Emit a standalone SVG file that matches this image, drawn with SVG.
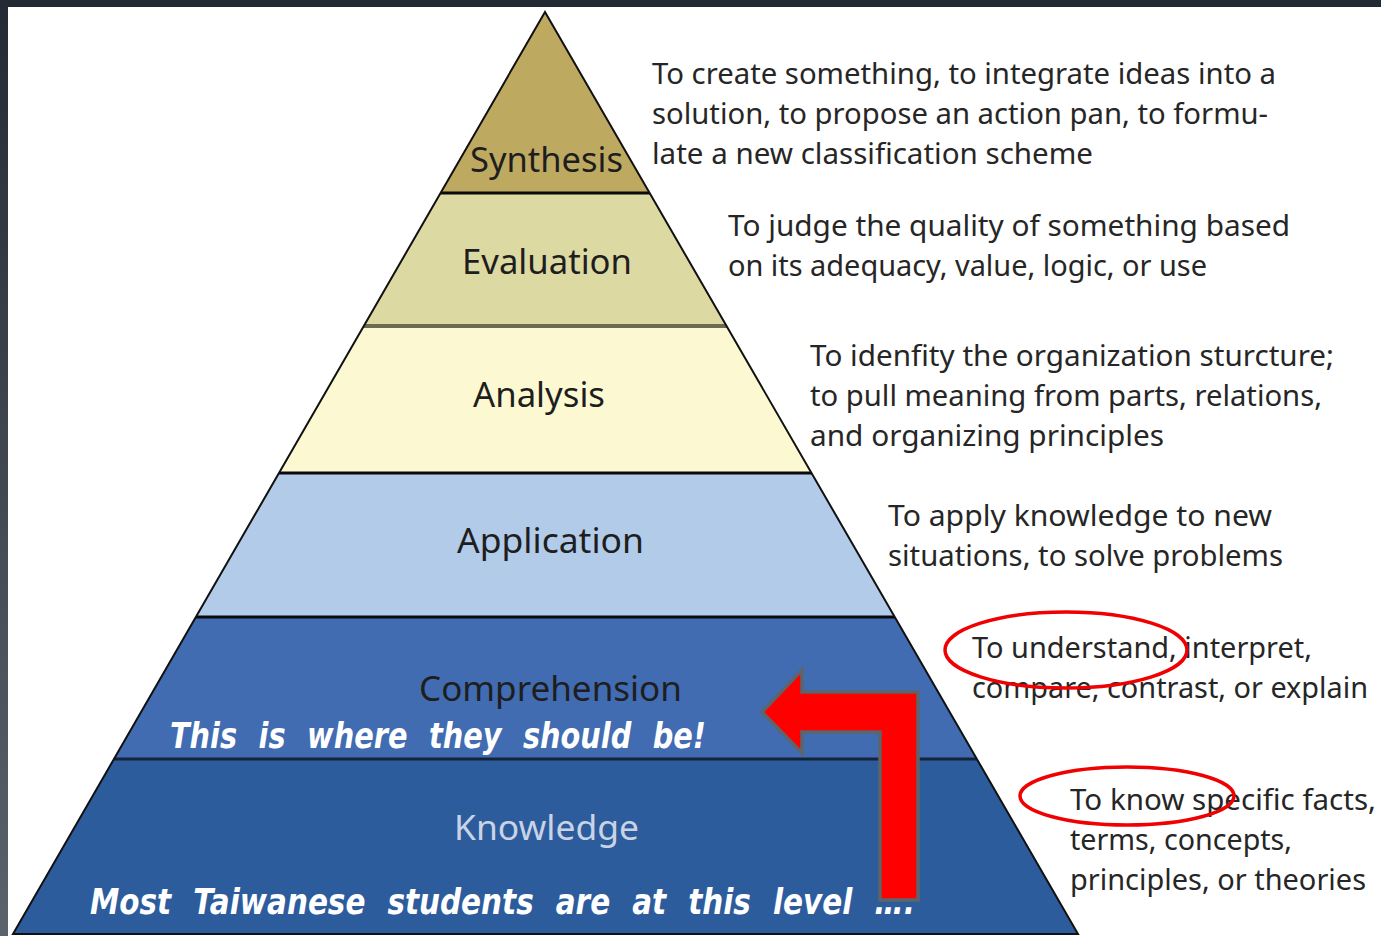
<svg xmlns="http://www.w3.org/2000/svg" width="1381" height="936" viewBox="0 0 1381 936">
  <defs>
    <linearGradient id="frameLeft" x1="0" y1="0" x2="0" y2="1">
      <stop offset="0" stop-color="#252b34"/>
      <stop offset="1" stop-color="#5a636c"/>
    </linearGradient>
    <clipPath id="pyr">
      <polygon points="545,12 13,934 1078,934"/>
    </clipPath>
    <style>
      .lbl { font-family: "Noto Sans", "Liberation Sans", sans-serif; font-size: 35px; fill: #1e1e1e; }
      .desc { font-family: "Noto Sans", "Liberation Sans", sans-serif; font-size: 29px; fill: #262626; }
      .note { font-family: "DejaVu Sans", sans-serif; font-size: 35px; font-weight: bold; font-style: italic; fill: #ffffff; word-spacing: 14px; }
      .div { stroke: #0a0a0a; stroke-width: 3; }
      .ring { fill: none; stroke: #f00000; stroke-width: 3.5; }
    </style>
  </defs>

  <!-- page background and frame -->
  <rect x="0" y="0" width="1381" height="936" fill="#ffffff"/>
  <rect x="0" y="0" width="1381" height="7" fill="#232a33"/>
  <rect x="0" y="0" width="8" height="936" fill="url(#frameLeft)"/>

  <!-- pyramid bands -->
  <g id="pyramid" clip-path="url(#pyr)">
    <g id="synthesis"><rect x="0" y="0" width="1100" height="193" fill="#bea961"/></g>
    <g id="evaluation"><rect x="0" y="193" width="1100" height="133" fill="#ddd9a3"/></g>
    <g id="analysis"><rect x="0" y="326" width="1100" height="147" fill="#fcf8d1"/></g>
    <g id="application"><rect x="0" y="473" width="1100" height="144" fill="#b2cbe9"/></g>
    <g id="comprehension"><rect x="0" y="617" width="1100" height="142" fill="#416cb2"/></g>
    <g id="knowledge"><rect x="0" y="759" width="1100" height="180" fill="#2d5c9d"/></g>
    <line class="div" x1="0" y1="193" x2="1100" y2="193"/>
    <line x1="0" y1="326" x2="1100" y2="326" stroke="#6c6b52" stroke-width="4"/>
    <line class="div" x1="0" y1="473" x2="1100" y2="473"/>
    <line class="div" x1="0" y1="617" x2="1100" y2="617"/>
    <line x1="0" y1="759" x2="1100" y2="759" stroke="#14233a" stroke-width="3"/>
  </g>
  <polygon points="545,12 13,934 1078,934" fill="none" stroke="#111111" stroke-width="2"/>

  <!-- level labels -->
  <text class="lbl" x="470" y="172" textLength="153" lengthAdjust="spacingAndGlyphs">Synthesis</text>
  <text class="lbl" x="462" y="274" textLength="170" lengthAdjust="spacingAndGlyphs">Evaluation</text>
  <text class="lbl" x="473" y="407" textLength="132" lengthAdjust="spacingAndGlyphs">Analysis</text>
  <text class="lbl" x="457" y="553" textLength="187" lengthAdjust="spacingAndGlyphs">Application</text>
  <text class="lbl" x="419" y="701" textLength="263" lengthAdjust="spacingAndGlyphs">Comprehension</text>
  <text class="lbl" x="454" y="840" textLength="185" lengthAdjust="spacingAndGlyphs" style="fill:#c9d3e6">Knowledge</text>

  <!-- descriptions -->
  <g id="desc-synthesis">
    <text class="desc" x="652" y="84" textLength="624" lengthAdjust="spacingAndGlyphs">To create something, to integrate ideas into a</text>
    <text class="desc" x="652" y="124" textLength="616" lengthAdjust="spacingAndGlyphs">solution, to propose an action pan, to formu-</text>
    <text class="desc" x="652" y="164" textLength="441" lengthAdjust="spacingAndGlyphs">late a new classification scheme</text>
  </g>
  <g id="desc-evaluation">
    <text class="desc" x="728" y="236" textLength="562" lengthAdjust="spacingAndGlyphs">To judge the quality of something based</text>
    <text class="desc" x="728" y="276" textLength="479" lengthAdjust="spacingAndGlyphs">on its adequacy, value, logic, or use</text>
  </g>
  <g id="desc-analysis">
    <text class="desc" x="810" y="366" textLength="524" lengthAdjust="spacingAndGlyphs">To idenfity the organization sturcture;</text>
    <text class="desc" x="810" y="406" textLength="512" lengthAdjust="spacingAndGlyphs">to pull meaning from parts, relations,</text>
    <text class="desc" x="810" y="446" textLength="354" lengthAdjust="spacingAndGlyphs">and organizing principles</text>
  </g>
  <g id="desc-application">
    <text class="desc" x="888" y="526" textLength="384" lengthAdjust="spacingAndGlyphs">To apply knowledge to new</text>
    <text class="desc" x="888" y="566" textLength="395" lengthAdjust="spacingAndGlyphs">situations, to solve problems</text>
  </g>
  <g id="desc-comprehension">
    <text class="desc" x="972" y="658" textLength="340" lengthAdjust="spacingAndGlyphs">To understand, interpret,</text>
    <text class="desc" x="972" y="698" textLength="396" lengthAdjust="spacingAndGlyphs">compare, contrast, or explain</text>
  </g>
  <g id="desc-knowledge">
    <text class="desc" x="1070" y="810" textLength="306" lengthAdjust="spacingAndGlyphs">To know specific facts,</text>
    <text class="desc" x="1070" y="850" textLength="222" lengthAdjust="spacingAndGlyphs">terms, concepts,</text>
    <text class="desc" x="1070" y="890" textLength="296" lengthAdjust="spacingAndGlyphs">principles, or theories</text>
  </g>

  <!-- highlight rings -->
  <ellipse class="ring" cx="1066" cy="650" rx="121" ry="38"/>
  <ellipse class="ring" cx="1127" cy="796" rx="107" ry="29"/>

  <!-- annotations -->
  <text class="note" x="170" y="748" textLength="536" lengthAdjust="spacingAndGlyphs">This is where they should be!</text>
  <text class="note" x="90" y="914" textLength="825" lengthAdjust="spacingAndGlyphs">Most Taiwanese students are at this level ….</text>

  <!-- connectors -->
  <g id="connectors">
    <polygon points="762,712 802,670 802,692 918,692 918,900 880,900 880,732 802,732 802,753" fill="#ff0000" stroke="#5e646b" stroke-width="3.5" stroke-linejoin="miter"/>
  </g>
</svg>
